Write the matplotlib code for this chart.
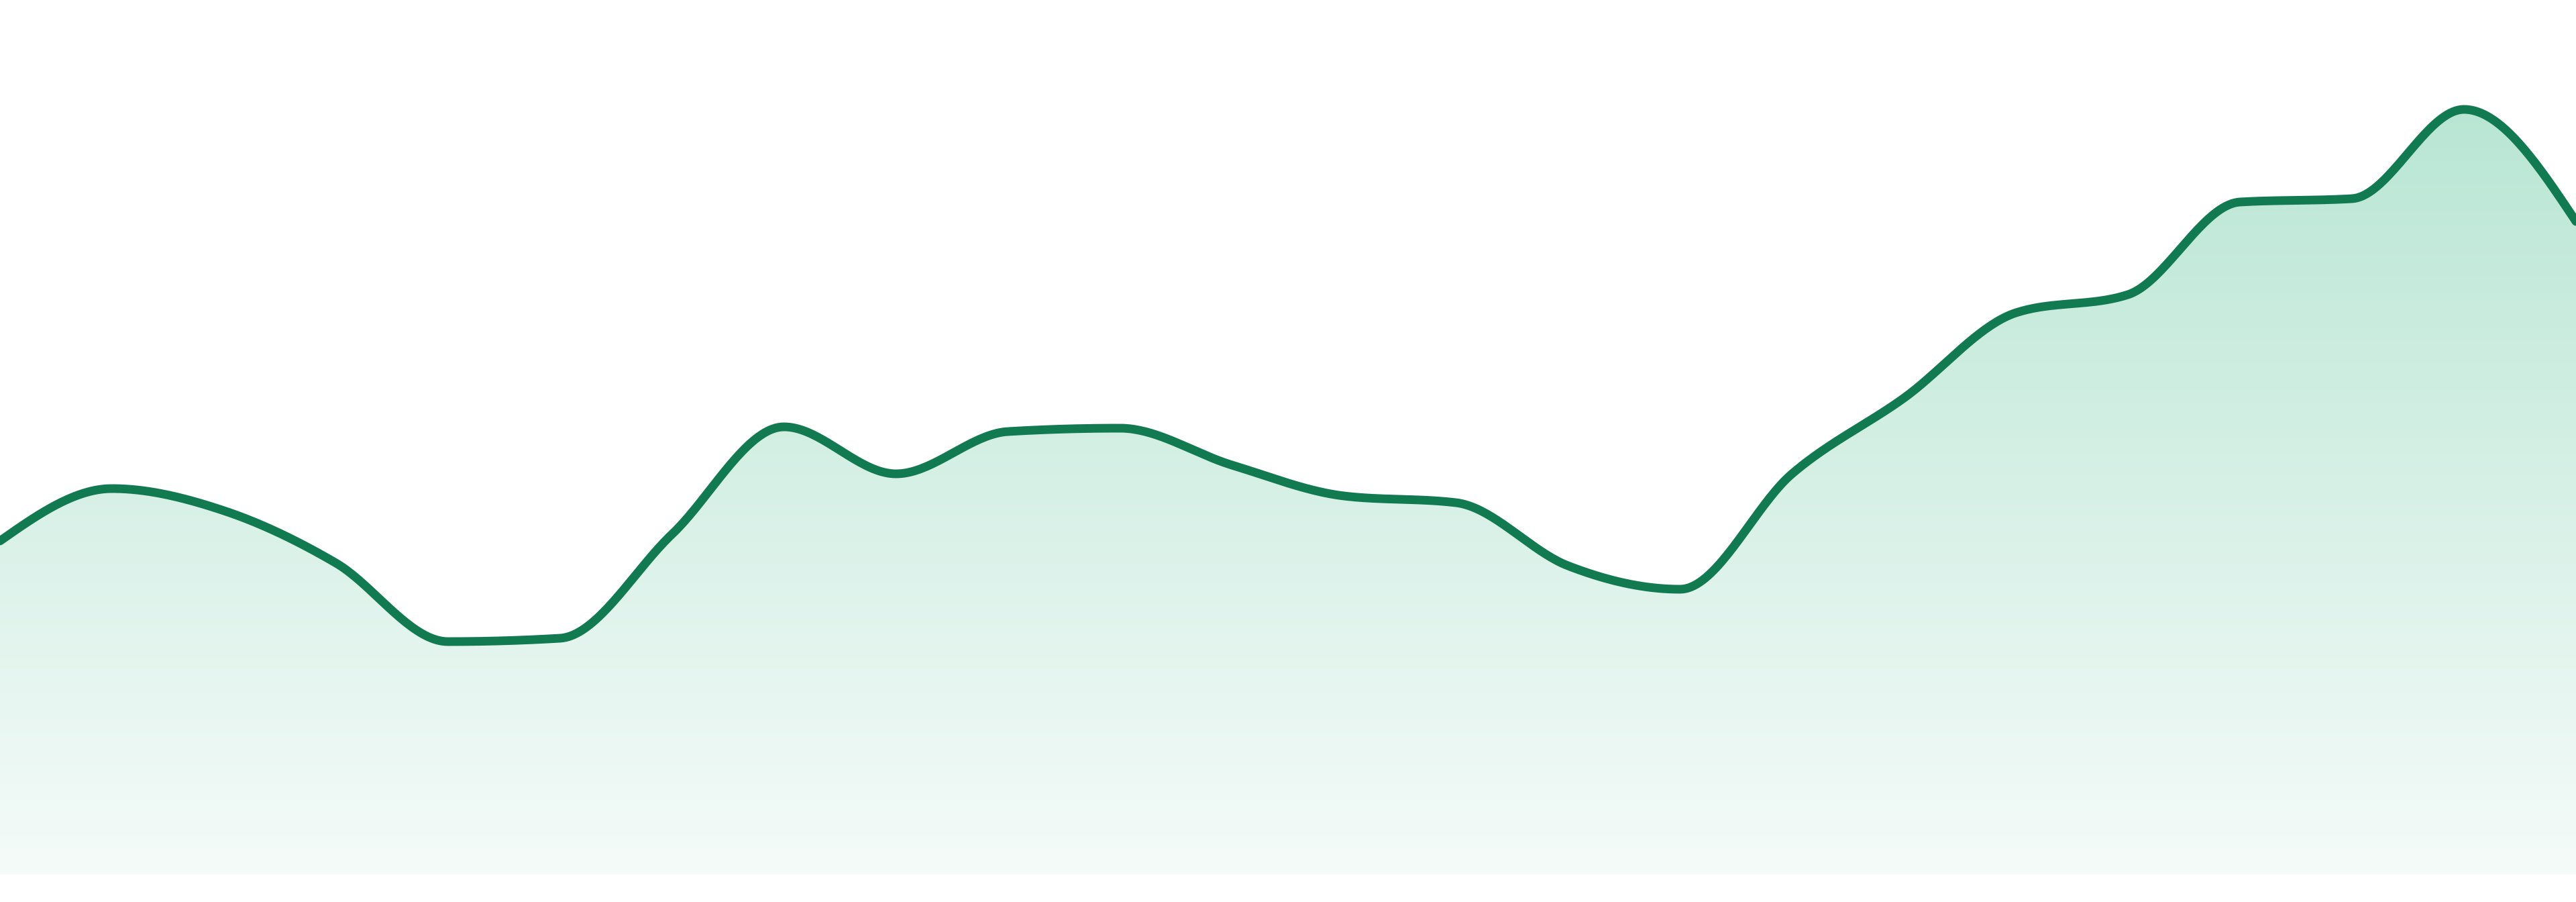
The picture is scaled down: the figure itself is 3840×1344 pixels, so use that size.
import matplotlib
matplotlib.use("Agg")
import matplotlib.pyplot as plt
from matplotlib.colors import LinearSegmentedColormap
import numpy as np

# 24 evenly spaced samples
steps = np.arange(24)
values = [49.7, 57.5, 54.2, 46.4, 34.7, 35.2, 50.7, 66.7, 59.7, 66.0, 66.5, 61.0,
          56.4, 55.4, 46.0, 42.5, 59.7, 71.0, 83.7, 86.4, 100.2, 100.7, 114.0, 97.3]

line_color = "#127a50"
fill_top = "#b9e6d4"
fill_bottom = "#f5fbf9"


def monotone_x(x, y, n=40):
    # same tangents as d3.curveMonotoneX, evaluated as cubic hermite pieces
    x = np.asarray(x, float)
    y = np.asarray(y, float)
    h = np.diff(x)
    s = np.diff(y) / h
    t = np.zeros(len(x))
    for i in range(1, len(x) - 1):
        p = (s[i - 1] * h[i] + s[i] * h[i - 1]) / (h[i - 1] + h[i])
        t[i] = (np.sign(s[i - 1]) + np.sign(s[i])) * min(abs(s[i - 1]), abs(s[i]), 0.5 * abs(p))
    t[0] = (3 * s[0] - t[1]) / 2
    t[-1] = (3 * s[-1] - t[-2]) / 2
    xs, ys = [], []
    for i in range(len(x) - 1):
        u = np.linspace(0, 1, n, endpoint=(i == len(x) - 2))
        h00 = 2 * u**3 - 3 * u**2 + 1
        h10 = u**3 - 2 * u**2 + u
        h01 = -2 * u**3 + 3 * u**2
        h11 = u**3 - u**2
        xs.append(x[i] + u * h[i])
        ys.append(h00 * y[i] + h10 * h[i] * t[i] + h01 * y[i + 1] + h11 * h[i] * t[i + 1])
    return np.concatenate(xs), np.concatenate(ys)


fig = plt.figure(figsize=(38.4, 13.44), dpi=100)
ax = fig.add_axes([0, 41 / 1344, 1, 1303 / 1344])
ax.set_xlim(0, 23)
ax.set_ylim(0, 130.3)
ax.axis("off")

cx, cy = monotone_x(steps, values)

# gradient fill under the curve
top_val = max(values)
cmap = LinearSegmentedColormap.from_list("fade", [fill_bottom, fill_top])
grad = np.linspace(0, 1, 256).reshape(-1, 1)
img = ax.imshow(grad, cmap=cmap, origin="lower", aspect="auto",
                extent=(0, 23, 0, top_val), zorder=1)
clip = plt.Polygon(np.column_stack([np.r_[cx, cx[-1], cx[0]], np.r_[cy, 0, 0]]),
                   closed=True, transform=ax.transData, facecolor="none", edgecolor="none")
ax.add_patch(clip)
img.set_clip_path(clip)

ax.plot(cx, cy, color=line_color, lw=9.3, solid_capstyle="round", zorder=3)

fig.savefig("out.png", dpi=100, facecolor="white")
